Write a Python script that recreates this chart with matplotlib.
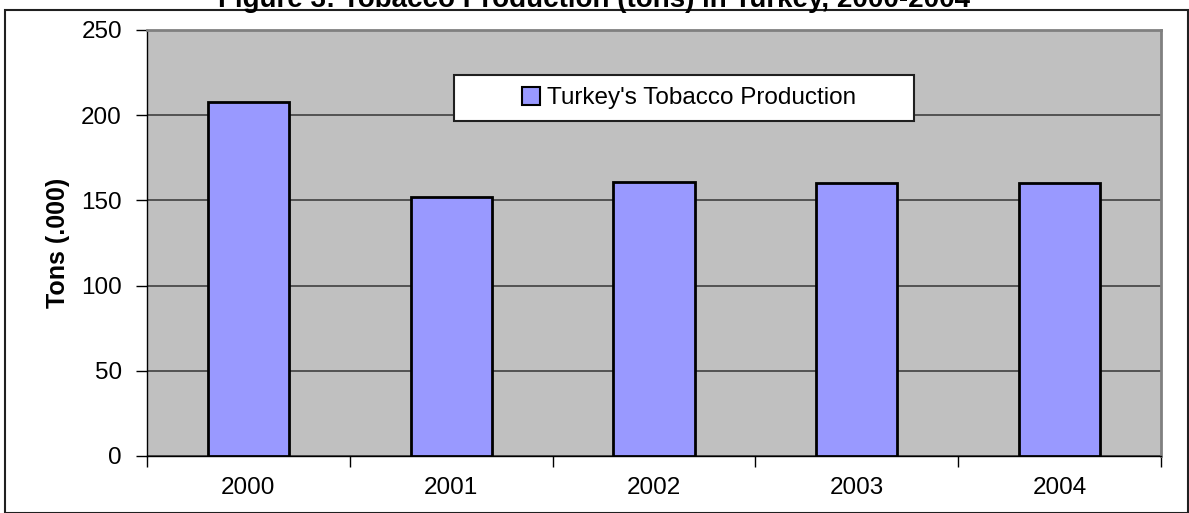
import matplotlib
matplotlib.use('Agg')
import matplotlib.pyplot as plt
import matplotlib.patches as mpatches
import numpy as np

# Data
years = ['2000', '2001', '2002', '2003', '2004']
production = [208, 152, 161, 160, 160]

W, H = 1189, 513
fig = plt.figure(figsize=(W / 100, H / 100), dpi=100)
plt.rcParams['font.family'] = 'Liberation Sans'

# outer chart frame
fig.patches.append(mpatches.Rectangle((5 / W, 0), 1183 / W, 1 - 10 / H,
                                      transform=fig.transFigure, fill=False,
                                      edgecolor='#202020', linewidth=1.5))

# title sits partly above the picture, as in the original
fig.text(0.5, 1 - 7 / H, 'Figure 3: Tobacco Production (tons) in Turkey, 2000-2004',
         ha='center', va='baseline', fontsize=20, fontweight='bold')

ax = fig.add_axes([147 / W, 1 - 456 / H, (1161 - 147) / W, (456 - 30) / H])
ax.set_facecolor('#C0C0C0')

x = np.arange(len(years))
ax.bar(x, production, width=0.4, color='#9999FF', edgecolor='black',
       linewidth=2.0, label="Turkey's Tobacco Production", zorder=3)

ax.set_xlim(-0.5, len(years) - 0.5)
ax.set_ylim(0, 250)
ax.set_yticks([0, 50, 100, 150, 200, 250])
ax.yaxis.grid(True, color='#404040', linewidth=1.2, zorder=1)

# category ticks between bars, labels centred under bars
ax.set_xticks(np.arange(-0.5, len(years) + 0.5, 1.0))
ax.set_xticklabels([])
ax.set_xticks(x, minor=True)
ax.set_xticklabels(years, minor=True)
ax.tick_params(axis='x', which='minor', length=0, pad=15)
ax.tick_params(axis='x', which='major', length=8, width=1, direction='out')
ax.tick_params(axis='y', length=8, width=1, direction='out', pad=10)
for lab in ax.get_xticklabels(minor=True) + ax.get_yticklabels():
    lab.set_fontsize(17.5)

ax.set_ylabel('Tons (.000)', fontsize=18, fontweight='bold', labelpad=8)

for s in ['left', 'bottom']:
    ax.spines[s].set_color('black')
    ax.spines[s].set_linewidth(1.0)
for s in ['top', 'right']:
    ax.spines[s].set_color('#808080')
    ax.spines[s].set_linewidth(2.0)

# legend box (wider than its content, as in the original)
ax.add_patch(mpatches.Rectangle((0.303, 0.786), 0.453, 0.108,
                                transform=ax.transAxes, facecolor='white',
                                edgecolor='#202020', linewidth=1.5, zorder=4))
leg = ax.legend(loc='center', bbox_to_anchor=(0.5345, 0.840), frameon=False,
                handlelength=0.75, handleheight=0.75, handletextpad=0.25,
                borderpad=0, borderaxespad=0, prop={'size': 17.5})
for p in leg.get_patches():
    p.set_linewidth(1.5)
leg.set_zorder(5)

fig.savefig('out.png', dpi=100)
